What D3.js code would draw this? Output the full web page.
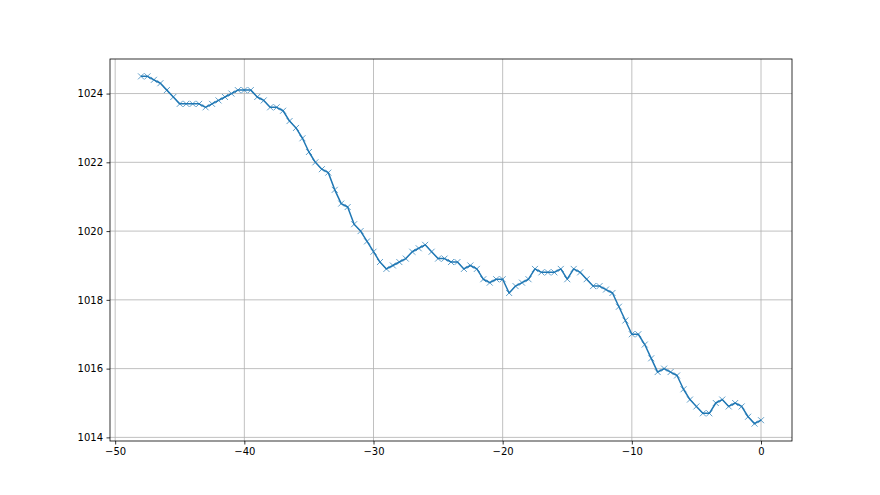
<!DOCTYPE html>
<html>
<head>
<meta charset="utf-8">
<script src="https://cdn.jsdelivr.net/npm/d3@7"></script>
<style>
    body { margin: 0; background: #fff; }
    svg { display: block; }
    .tick text { font-family: "DejaVu Sans", sans-serif; font-size: 10px; fill: #000; }
</style>
</head>
<body>
<svg id="chart" width="880" height="495"></svg>
<script>
// hours before now
const hours = [
    -48, -47.5, -47, -46.5, -46, -45.5, -45, -44.5, -44, -43.5,
    -43, -42.5, -42, -41.5, -41, -40.5, -40, -39.5, -39, -38.5,
    -38, -37.5, -37, -36.5, -36, -35.5, -35, -34.5, -34, -33.5,
    -33, -32.5, -32, -31.5, -31, -30.5, -30, -29.5, -29, -28.5,
    -28, -27.5, -27, -26.5, -26, -25.5, -25, -24.5, -24, -23.5,
    -23, -22.5, -22, -21.5, -21, -20.5, -20, -19.5, -19, -18.5,
    -18, -17.5, -17, -16.5, -16, -15.5, -15, -14.5, -14, -13.5,
    -13, -12.5, -12, -11.5, -11, -10.5, -10, -9.5, -9, -8.5,
    -8, -7.5, -7, -6.5, -6, -5.5, -5, -4.5, -4, -3.5,
    -3, -2.5, -2, -1.5, -1, -0.5, 0
];

// pressure readings
const pressure = [
    1024.5, 1024.5, 1024.4, 1024.3, 1024.1, 1023.9, 1023.7, 1023.7, 1023.7, 1023.7,
    1023.6, 1023.7, 1023.8, 1023.9, 1024.0, 1024.1, 1024.1, 1024.1, 1023.9, 1023.8,
    1023.6, 1023.6, 1023.5, 1023.2, 1023.0, 1022.7, 1022.3, 1022.0, 1021.8, 1021.7,
    1021.2, 1020.8, 1020.7, 1020.2, 1020.0, 1019.7, 1019.4, 1019.1, 1018.9, 1019.0,
    1019.1, 1019.2, 1019.4, 1019.5, 1019.6, 1019.4, 1019.2, 1019.2, 1019.1, 1019.1,
    1018.9, 1019.0, 1018.9, 1018.6, 1018.5, 1018.6, 1018.6, 1018.2, 1018.4, 1018.5,
    1018.6, 1018.9, 1018.8, 1018.8, 1018.8, 1018.9, 1018.6, 1018.9, 1018.8, 1018.6,
    1018.4, 1018.4, 1018.3, 1018.2, 1017.8, 1017.4, 1017.0, 1017.0, 1016.7, 1016.3,
    1015.9, 1016.0, 1015.9, 1015.8, 1015.4, 1015.1, 1014.9, 1014.7, 1014.7, 1015.0,
    1015.1, 1014.9, 1015.0, 1014.9, 1014.6, 1014.4, 1014.5
];

const xTicks = [-50, -40, -30, -20, -10, 0];
const yTicks = [1014, 1016, 1018, 1020, 1022, 1024];

const margin = {top: 59, right: 88, bottom: 54, left: 110};
const width = 880 - margin.left - margin.right;
const height = 495 - margin.top - margin.bottom;

let data = hours.map((h, i) => ({x: h, y: pressure[i]}));

// matplotlib-style 5% padding
let xExt = d3.extent(hours), yExt = d3.extent(pressure);
let xPad = (xExt[1] - xExt[0]) * 0.05, yPad = (yExt[1] - yExt[0]) * 0.05;

let x = d3.scaleLinear().domain([xExt[0] - xPad, xExt[1] + xPad]).range([0, width]);
let y = d3.scaleLinear().domain([yExt[0] - yPad, yExt[1] + yPad]).range([height, 0]);

let svg = d3.select('#chart');
let g = svg.append('g')
    .attr('transform', "translate(" + margin.left + "," + margin.top + ")");

let fmt = d => d < 0 ? "\u2212" + Math.abs(d) : String(d);

// grid
g.append('g')
    .selectAll('line')
    .data(xTicks)
    .enter()
    .append('line')
    .attr('x1', d => x(d)).attr('x2', d => x(d))
    .attr('y1', 0).attr('y2', height)
    .attr('stroke', "#b0b0b0")
    .attr('stroke-width', 0.8);

g.append('g')
    .selectAll('line')
    .data(yTicks)
    .enter()
    .append('line')
    .attr('x1', 0).attr('x2', width)
    .attr('y1', d => y(d)).attr('y2', d => y(d))
    .attr('stroke', "#b0b0b0")
    .attr('stroke-width', 0.8);

// axes
let xAxis = g.append('g')
    .attr('transform', "translate(0," + height + ")")
    .call(d3.axisBottom(x).tickValues(xTicks).tickFormat(fmt).tickSizeOuter(0).tickSize(3.5).tickPadding(3.5));

let yAxis = g.append('g')
    .call(d3.axisLeft(y).tickValues(yTicks).tickFormat(d3.format('d')).tickSizeOuter(0).tickSize(3.5).tickPadding(3.5));

[xAxis, yAxis].forEach(a => {
    a.select('.domain').remove();
    a.selectAll('.tick line').attr('stroke', "#000").attr('stroke-width', 0.8);
});

// line
let line = d3.line().x(d => x(d.x)).y(d => y(d.y));

g.append('path')
    .datum(data)
    .attr('d', line)
    .attr('fill', "none")
    .attr('stroke', "#1f77b4")
    .attr('stroke-width', 1.5)
    .attr('stroke-linejoin', "round");

// x markers
let s = 3;
g.append('g')
    .selectAll('path')
    .data(data)
    .enter()
    .append('path')
    .attr('d', d => {
        let cx = x(d.x), cy = y(d.y);
        return "M" + (cx - s) + "," + (cy - s) + "L" + (cx + s) + "," + (cy + s) +
            "M" + (cx - s) + "," + (cy + s) + "L" + (cx + s) + "," + (cy - s);
    })
    .attr('stroke', "#1f77b4")
    .attr('stroke-opacity', 0.7)
    .attr('stroke-width', 1)
    .attr('fill', "none");

// frame
g.append('rect')
    .attr('width', width)
    .attr('height', height)
    .attr('fill', "none")
    .attr('stroke', "#000")
    .attr('stroke-width', 0.8);
</script>
</body>
</html>
